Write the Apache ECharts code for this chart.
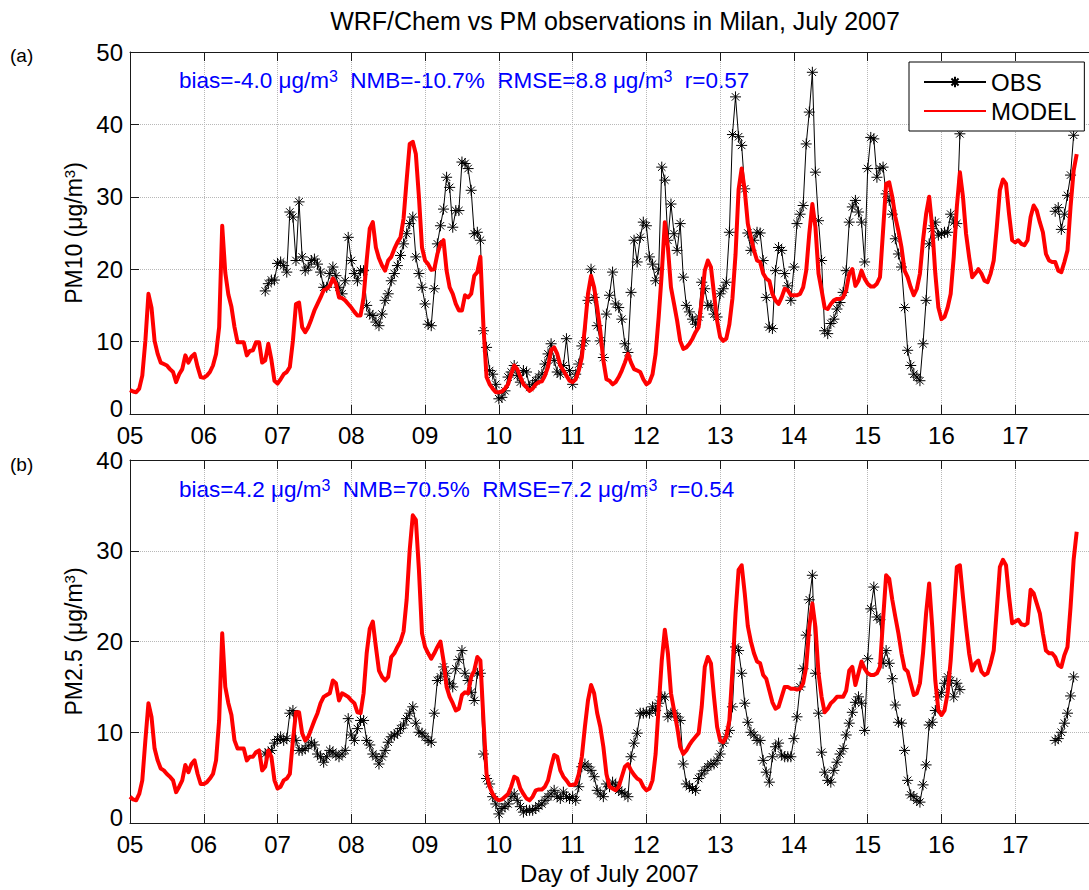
<!DOCTYPE html>
<html>
<head>
<meta charset="utf-8">
<title>WRF/Chem vs PM observations in Milan, July 2007</title>
<script src="https://cdn.jsdelivr.net/npm/echarts@6/dist/echarts.min.js"></script>
<style>
  html, body { margin: 0; padding: 0; background: #fff; }
  #chart { width: 1089px; height: 890px; }
</style>
</head>
<body>
<div id="chart"></div>
<script>
// Hourly series. Model output starts 5 July 00:00; observations start 6 July 20:00.
const FIRST_DAY = 5;
const OBS_FIRST_HOUR = 44;
const DAY_TICKS = ['05', '06', '07', '08', '09', '10', '11', '12', '13', '14', '15', '16', '17'];

// PM10 model (µg/m3), one row per day
const pm10Model = [
  3.3, 3.1, 3.0, 3.5, 5.3, 10.1, 16.6, 14.7, 10.1, 8.3, 7.1, 6.9, 6.7, 6.2, 5.8, 4.4, 5.5, 6.2, 8.1, 7.1, 7.9, 8.3, 6.5, 5.1,
  5.0, 5.3, 5.8, 6.7, 8.3, 12.0, 26.0, 19.5, 16.5, 14.8, 12.0, 9.9, 9.9, 9.9, 8.1, 8.7, 8.8, 9.9, 9.9, 7.1, 7.4, 9.7, 7.5, 4.6,
  4.2, 4.8, 5.5, 5.8, 6.5, 10.1, 15.2, 15.4, 12.0, 11.3, 12.0, 13.1, 14.3, 15.2, 16.1, 17.1, 17.3, 17.7, 18.7, 18.0, 16.1, 16.0, 15.7, 15.2,
  14.7, 14.1, 13.6, 13.6, 16.1, 21.2, 25.6, 26.5, 23.0, 21.5, 20.5, 19.8, 21.2, 21.7, 22.8, 23.7, 24.4, 27.0, 32.3, 37.3, 37.6, 35.9, 30.0, 23.0,
  21.2, 20.7, 19.9, 20.0, 22.1, 23.5, 24.0, 19.8, 17.5, 16.6, 15.2, 14.3, 14.3, 16.4, 16.1, 16.6, 19.1, 19.6, 21.7, 12.0, 5.1, 4.1, 3.5, 3.0,
  3.0, 3.1, 3.5, 4.1, 5.5, 6.7, 6.2, 5.1, 4.1, 3.7, 3.2, 3.5, 4.1, 4.4, 4.5, 5.3, 6.5, 8.8, 9.2, 8.3, 6.7, 6.0, 5.3, 4.6,
  4.4, 4.8, 6.0, 7.8, 12.0, 16.6, 19.1, 17.5, 14.7, 11.5, 7.4, 4.8, 4.6, 4.1, 4.4, 5.1, 6.0, 7.1, 8.3, 7.1, 6.2, 6.0, 5.8, 4.8,
  4.1, 4.4, 5.5, 8.3, 13.4, 19.4, 26.5, 23.0, 17.5, 15.2, 12.9, 10.1, 9.0, 9.2, 9.7, 10.4, 11.3, 12.0, 15.7, 19.8, 21.2, 20.3, 16.6, 12.9,
  10.6, 10.1, 10.4, 12.4, 16.0, 22.0, 31.0, 33.9, 30.9, 26.3, 24.4, 22.6, 21.2, 21.0, 19.4, 18.7, 18.4, 16.6, 15.7, 15.2, 16.1, 17.3, 17.1, 16.4,
  16.4, 16.4, 16.6, 17.5, 19.8, 24.9, 29.0, 25.8, 19.4, 17.1, 14.7, 14.5, 15.2, 15.7, 15.9, 15.9, 16.1, 17.1, 19.4, 20.0, 17.7, 18.4, 19.8, 18.7,
  18.0, 17.6, 17.6, 18.0, 18.9, 25.3, 31.8, 32.0, 30.0, 27.2, 25.3, 23.0, 19.8, 18.9, 17.5, 16.4, 17.3, 19.4, 24.0, 27.6, 30.0, 25.8, 19.4, 14.7,
  13.1, 13.4, 14.7, 16.6, 21.7, 28.6, 33.4, 30.0, 24.9, 21.7, 18.9, 19.4, 20.0, 19.4, 18.4, 18.2, 19.4, 21.2, 25.8, 30.9, 32.4, 31.8, 27.6, 24.0,
  23.7, 24.0, 23.5, 23.3, 24.0, 27.2, 28.8, 28.1, 26.5, 25.1, 22.1, 21.2, 21.0, 21.0, 19.8, 19.6, 21.0, 22.6, 28.6, 33.6, 35.9
];

// PM10 observations (µg/m3), from 6 July 20:00; null = no data
const pm10Obs = [
  17.0, 18.0, 18.5, 18.5,
  20.8, 21.0, 20.5, 19.6, 27.9, 27.2, 21.2, 29.3, 21.7, 19.8, 20.3, 21.2, 21.4, 20.7, 19.6, 17.5, 17.5, 19.4, 20.3, 19.1, 17.5, 16.6, 18.4, 24.4,
  21.2, 19.4, 18.4, 19.8, 19.8, 15.0, 13.8, 13.6, 12.7, 12.2, 13.8, 15.7, 16.6, 18.4, 19.4, 20.5, 21.9, 23.5, 24.9, 26.3, 27.2, 21.7, 19.4, 17.5,
  15.2, 12.4, 12.2, 17.3, 23.5, 26.0, 28.3, 32.7, 31.3, 25.8, 28.1, 28.1, 34.8, 34.6, 33.9, 30.9, 24.9, 25.1, 24.0, 11.5, 9.2, 6.0, 5.5, 4.1,
  2.1, 2.3, 3.2, 5.1, 5.8, 6.7, 5.3, 4.4, 6.0, 5.8, 3.7, 4.1, 4.6, 5.1, 5.5, 6.9, 8.3, 9.7, 7.4, 5.8, 5.5, 6.7, 10.4, 6.0,
  4.1, 5.5, 6.9, 9.4, 10.1, 15.7, 20.0, 16.1, 12.2, 10.1, 7.8, 13.8, 16.4, 19.6, 15.2, 14.7, 13.1, 9.7, 8.5, 16.8, 24.0, 21.0, 24.4, 26.5,
  26.0, 21.7, 20.7, 18.4, 20.0, 34.1, 32.3, 24.0, 29.0, 24.9, 22.6, 26.3, 18.9, 15.0, 14.1, 13.1, 12.4, 13.4, 18.2, 17.3, 15.0, 15.0, 13.8, 13.4,
  16.6, 17.3, 18.2, 25.1, 38.6, 43.8, 38.3, 37.1, 31.1, 25.0, 22.6, 24.0, 25.1, 25.0, 21.2, 16.1, 12.0, 11.8, 19.8, 23.0, 22.6, 19.4, 17.7, 15.7,
  20.3, 26.3, 27.6, 28.8, 37.3, 41.7, 47.2, 33.4, 26.7, 21.2, 11.5, 11.1, 12.5, 13.1, 14.5, 15.4, 16.8, 19.8, 26.5, 28.6, 29.5, 27.9, 26.5, 21.0,
  33.9, 38.2, 38.0, 32.7, 33.9, 34.1, 30.4, 29.5, 27.6, 24.2, 22.1, 20.3, 14.7, 8.8, 6.7, 5.5, 5.1, 4.6, 9.7, 15.7, 23.5, 25.6, 26.5, 24.7,
  24.9, 25.1, 25.1, 27.6, 26.5, 26.3, 38.7, null, null, null, null, null, null, null, null, null, null, null, null, null, null, null, null,
  null, null, null, null, null, null, null, null, null, null, null, null, null, null, 28.0, 28.5, 25.5, 27.6, 30.2, 33.0, 38.5
];

// PM2.5 model (µg/m3)
const pm25Model = [
  2.9, 2.6, 2.5, 3.2, 4.7, 9.1, 13.2, 11.7, 8.2, 6.9, 6.0, 5.8, 5.4, 5.1, 4.7, 3.4, 4.0, 4.7, 6.4, 5.6, 6.5, 6.9, 5.4, 4.3,
  4.3, 4.5, 4.9, 5.4, 6.9, 11.3, 20.9, 15.0, 13.2, 11.9, 9.1, 8.2, 8.2, 8.2, 6.9, 7.3, 7.3, 7.8, 8.0, 5.8, 6.2, 8.0, 7.3, 4.7,
  3.8, 4.0, 4.7, 4.9, 5.4, 9.1, 12.2, 12.2, 9.9, 9.1, 9.5, 10.4, 11.3, 12.1, 13.2, 13.9, 14.1, 14.3, 15.7, 15.4, 13.5, 14.3, 14.1, 13.9,
  13.5, 13.2, 12.2, 12.1, 14.3, 18.7, 21.4, 22.2, 19.4, 16.8, 16.1, 15.7, 16.1, 18.3, 18.7, 19.4, 20.0, 21.1, 24.6, 30.1, 33.9, 33.4, 27.9, 20.9,
  19.4, 18.7, 18.1, 18.7, 19.4, 20.0, 17.9, 15.0, 13.9, 13.2, 12.4, 12.6, 14.1, 14.4, 14.3, 16.1, 16.8, 18.3, 17.9, 11.3, 5.4, 4.0, 3.2, 2.7,
  2.5, 2.6, 2.9, 3.2, 4.0, 5.1, 4.9, 3.8, 3.2, 2.7, 2.5, 2.9, 3.6, 3.7, 3.7, 4.0, 4.7, 6.2, 7.5, 7.3, 5.8, 5.1, 4.7, 4.2,
  4.2, 4.3, 5.4, 7.3, 10.6, 13.5, 15.2, 14.3, 12.1, 10.6, 8.4, 5.4, 4.0, 3.8, 3.6, 4.0, 5.1, 6.2, 6.5, 5.8, 5.3, 4.9, 4.7, 4.0,
  3.6, 3.8, 4.7, 7.6, 12.8, 17.9, 21.3, 18.7, 14.3, 12.4, 10.6, 8.4, 7.6, 8.0, 8.6, 9.1, 9.5, 9.9, 12.8, 17.2, 18.3, 17.6, 13.9, 10.6,
  9.1, 8.9, 9.5, 11.3, 16.8, 23.1, 27.9, 28.4, 25.3, 21.7, 20.0, 18.7, 17.8, 17.6, 16.3, 15.9, 14.6, 13.3, 12.6, 12.8, 13.9, 15.0, 15.0, 14.8,
  14.8, 14.7, 14.8, 15.4, 17.2, 21.6, 24.2, 21.6, 16.5, 13.9, 12.2, 12.6, 13.2, 13.5, 13.9, 13.9, 13.9, 14.6, 16.8, 17.2, 15.2, 16.5, 17.8, 17.0,
  16.5, 16.3, 16.3, 16.5, 17.2, 22.4, 27.3, 26.9, 24.6, 22.7, 20.9, 18.7, 17.0, 16.7, 15.4, 14.1, 14.3, 15.4, 18.7, 23.1, 26.4, 21.6, 15.7, 12.4,
  11.9, 12.4, 14.3, 17.9, 23.1, 28.2, 28.4, 24.9, 21.6, 18.7, 16.8, 17.6, 17.9, 16.7, 16.3, 16.5, 17.6, 19.0, 23.5, 28.2, 29.0, 28.4, 24.9, 22.0,
  22.2, 22.4, 21.9, 21.8, 22.0, 25.7, 25.3, 24.2, 23.1, 20.9, 19.0, 18.7, 18.7, 18.3, 17.4, 17.2, 18.5, 19.4, 23.8, 29.0, 32.1
];

// PM2.5 observations (µg/m3), from 6 July 20:00; null = no data
const pm25Obs = [
  7.6, 7.8, 8.0, 8.8,
  9.2, 9.5, 9.1, 9.3, 12.1, 12.4, 9.1, 8.0, 8.0, 8.2, 8.5, 8.9, 8.6, 7.6, 7.3, 6.7, 7.3, 8.0, 7.8, 7.5, 7.3, 7.6, 8.0, 11.5,
  9.7, 9.1, 10.4, 11.3, 11.3, 9.1, 8.6, 7.6, 7.3, 6.5, 7.3, 8.0, 8.9, 9.5, 9.7, 9.9, 10.4, 10.8, 11.5, 12.1, 12.8, 11.0, 10.0, 9.9,
  9.5, 9.1, 8.9, 12.1, 15.7, 16.1, 17.2, 16.5, 15.4, 15.0, 17.0, 18.0, 19.0, 16.5, 15.7, 14.4, 13.5, 16.5, 16.5, 7.6, 4.9, 4.3, 2.9, 2.1,
  1.0, 1.6, 1.8, 2.1, 2.9, 3.2, 2.5, 1.8, 1.2, 1.4, 1.4, 1.4, 1.6, 1.9, 2.1, 2.5, 2.9, 3.2, 3.6, 2.9, 2.7, 3.4, 2.9, 2.7,
  2.9, 2.5, 4.0, 6.2, 6.5, 6.2, 5.8, 5.1, 3.6, 3.2, 2.9, 4.3, 4.0, 4.5, 4.2, 3.6, 3.4, 3.2, 2.9, 7.3, 8.8, 9.9, 12.1, 12.1,
  12.2, 12.1, 12.8, 12.4, 13.2, 13.9, 13.9, 11.7, 12.1, 12.1, 11.7, 11.3, 6.5, 4.3, 4.0, 3.8, 3.6, 4.9, 5.4, 5.8, 6.2, 6.5, 6.5, 6.9,
  7.6, 8.8, 9.5, 10.2, 12.8, 19.4, 19.0, 16.5, 13.2, 11.1, 10.0, 9.7, 9.1, 9.1, 6.9, 5.6, 4.5, 7.3, 8.4, 8.8, 7.5, 7.3, 7.3, 7.3,
  9.3, 11.7, 15.0, 17.0, 20.7, 24.6, 27.3, 16.5, 12.1, 7.8, 5.6, 4.7, 4.5, 5.8, 6.7, 7.6, 8.2, 9.7, 11.0, 12.2, 13.3, 13.9, 13.2, 10.2,
  18.1, 23.6, 26.0, 22.7, 22.4, 17.6, 19.0, 17.6, 15.9, 13.0, 11.1, 11.0, 8.0, 4.7, 3.1, 2.9, 2.5, 2.3, 4.2, 6.4, 10.8, 11.1, 12.4, 13.9,
  14.4, 15.4, 16.1, 15.7, 13.9, 15.4, 14.7, null, null, null, null, null, null, null, null, null, null, null, null, null, null, null, null,
  null, null, null, null, null, null, null, null, null, null, null, null, null, null, 9.1, 9.3, 10.0, 11.0, 12.1, 14.0, 16.1
];

const STATS_PM10 = 'bias=-4.0 μg/m{s|3}  NMB=-10.7%  RMSE=8.8 μg/m{s|3}  r=0.57';
const STATS_PM25 = 'bias=4.2 μg/m{s|3}  NMB=70.5%  RMSE=7.2 μg/m{s|3}  r=0.54';

// ---------------------------------------------------------------------------
const FONT = '"Liberation Sans", Arial, Helvetica, sans-serif';
const AXIS_COLOR = '#1a1a1a';
const GRID_COLOR = '#b8b8b8';
const STAR = 'path://M0 5L10 5M5 0L5 10M1.6 1.6L8.4 8.4M1.6 8.4L8.4 1.6';

function hourly(values, firstHour) {
  return values.map((v, i) => [FIRST_DAY + (firstHour + i) / 24, v]);
}

function dayLabel(v) {
  const i = Math.round(v - FIRST_DAY);
  return DAY_TICKS[i] !== undefined ? DAY_TICKS[i] : '';
}

// the zero label sits a little above its tick so it clears the day labels
function valueLabel(v) {
  return v === 0 ? '{zero|0}' : String(v);
}

function bottomAxis(gridIndex, extra) {
  return Object.assign({
    type: 'value', gridIndex, position: 'bottom',
    min: FIRST_DAY, max: 18, interval: 1,
    axisLine: { onZero: false, lineStyle: { color: AXIS_COLOR, width: 1 } },
    axisTick: { inside: true, length: 9, lineStyle: { color: AXIS_COLOR } },
    axisLabel: { formatter: dayLabel, showMaxLabel: false, margin: 11, lineHeight: 20,
                 fontSize: 24, color: '#000', fontFamily: FONT },
    splitLine: { show: true, lineStyle: { type: 'dotted', color: GRID_COLOR, width: 1 } }
  }, extra || {});
}

function topAxis(gridIndex) {
  return {
    type: 'value', gridIndex, position: 'top',
    min: FIRST_DAY, max: 18, interval: 1,
    axisLine: { onZero: false, lineStyle: { color: AXIS_COLOR, width: 1 } },
    axisTick: { inside: true, length: 9, lineStyle: { color: AXIS_COLOR } },
    axisLabel: { show: false },
    splitLine: { show: false }
  };
}

function leftAxis(gridIndex, max, label) {
  return {
    type: 'value', gridIndex, min: 0, max, interval: 10,
    name: label, nameLocation: 'middle', nameGap: 43, nameRotate: 90,
    nameTextStyle: {
      fontSize: 23, color: '#000', fontFamily: FONT,
      rich: { sup: { fontSize: 15, verticalAlign: 'top', fontFamily: FONT, color: '#000' } }
    },
    axisLine: { show: true, onZero: false, lineStyle: { color: AXIS_COLOR, width: 1 } },
    axisTick: { show: true, inside: true, length: 9, lineStyle: { color: AXIS_COLOR } },
    axisLabel: {
      formatter: valueLabel, margin: 7, lineHeight: 19, fontSize: 24, color: '#000', fontFamily: FONT,
      rich: { zero: { fontSize: 24, color: '#000', fontFamily: FONT, padding: [0, 0, 12, 0] } }
    },
    splitLine: { show: true, lineStyle: { type: 'dotted', color: GRID_COLOR, width: 1 } }
  };
}

function obsSeries(name, values, xi, yi) {
  return {
    name, type: 'line', xAxisIndex: xi, yAxisIndex: yi,
    data: hourly(values, OBS_FIRST_HOUR),
    connectNulls: false, showAllSymbol: true,
    symbol: STAR, symbolSize: 11,
    lineStyle: { color: '#000', width: 1 },
    itemStyle: { color: '#000', borderColor: '#000', borderWidth: 1 },
    z: 2, silent: true
  };
}

function modelSeries(name, values, xi, yi) {
  return {
    name, type: 'line', xAxisIndex: xi, yAxisIndex: yi,
    data: hourly(values, 0),
    symbol: 'none',
    lineStyle: { color: '#ff0000', width: 4, join: 'round' },
    itemStyle: { color: '#ff0000' },
    z: 3, silent: true
  };
}

function statsText(text, x, y) {
  return {
    type: 'text', x, y, silent: true,
    style: {
      text, fill: '#0000ff', font: '22.5px ' + FONT,
      textAlign: 'left', textVerticalAlign: 'middle',
      rich: { s: { fontSize: 16, fill: '#0000ff', verticalAlign: 'top', fontFamily: FONT } }
    }
  };
}

function panelTag(text, x, y) {
  return {
    type: 'text', x, y, silent: true,
    style: { text, fill: '#000', font: '19px ' + FONT, textAlign: 'left', textVerticalAlign: 'middle' }
  };
}

const chart = echarts.init(document.getElementById('chart'), null, { renderer: 'svg' });

chart.setOption({
  animation: false,
  backgroundColor: '#fff',
  title: {
    text: 'WRF/Chem vs PM observations in Milan, July 2007',
    left: 615, top: 8, textAlign: 'center', padding: 0,
    textStyle: { fontSize: 25, fontWeight: 'normal', color: '#000', fontFamily: FONT }
  },
  grid: [
    { left: 130, top: 52, width: 971, height: 362 },
    { left: 130, top: 460, width: 971, height: 363 }
  ],
  xAxis: [
    bottomAxis(0),
    topAxis(0),
    bottomAxis(1, {
      name: 'Day of July 2007', nameLocation: 'middle', nameGap: 38,
      nameTextStyle: { fontSize: 24, color: '#000', fontFamily: FONT }
    }),
    topAxis(1)
  ],
  yAxis: [
    leftAxis(0, 50, 'PM10 (μg/m{sup|3})'),
    leftAxis(1, 40, 'PM2.5 (μg/m{sup|3})')
  ],
  legend: {
    data: [{ name: 'OBS' }, { name: 'MODEL', itemStyle: { opacity: 0 } }],
    orient: 'vertical', left: 909, top: 62,
    itemWidth: 62, itemHeight: 13, itemGap: 5,
    padding: [8, 8, 8, 14],
    backgroundColor: '#fff', borderColor: '#000', borderWidth: 1, borderRadius: 0,
    selectedMode: false,
    textStyle: { fontSize: 24, color: '#000', fontFamily: FONT }
  },
  graphic: [
    panelTag('(a)', 10, 55),
    panelTag('(b)', 10, 464),
    statsText(STATS_PM10, 179, 80),
    statsText(STATS_PM25, 179, 489)
  ],
  series: [
    obsSeries('OBS', pm10Obs, 0, 0),
    modelSeries('MODEL', pm10Model, 0, 0),
    obsSeries('OBS', pm25Obs, 2, 1),
    modelSeries('MODEL', pm25Model, 2, 1)
  ]
});
</script>
</body>
</html>
